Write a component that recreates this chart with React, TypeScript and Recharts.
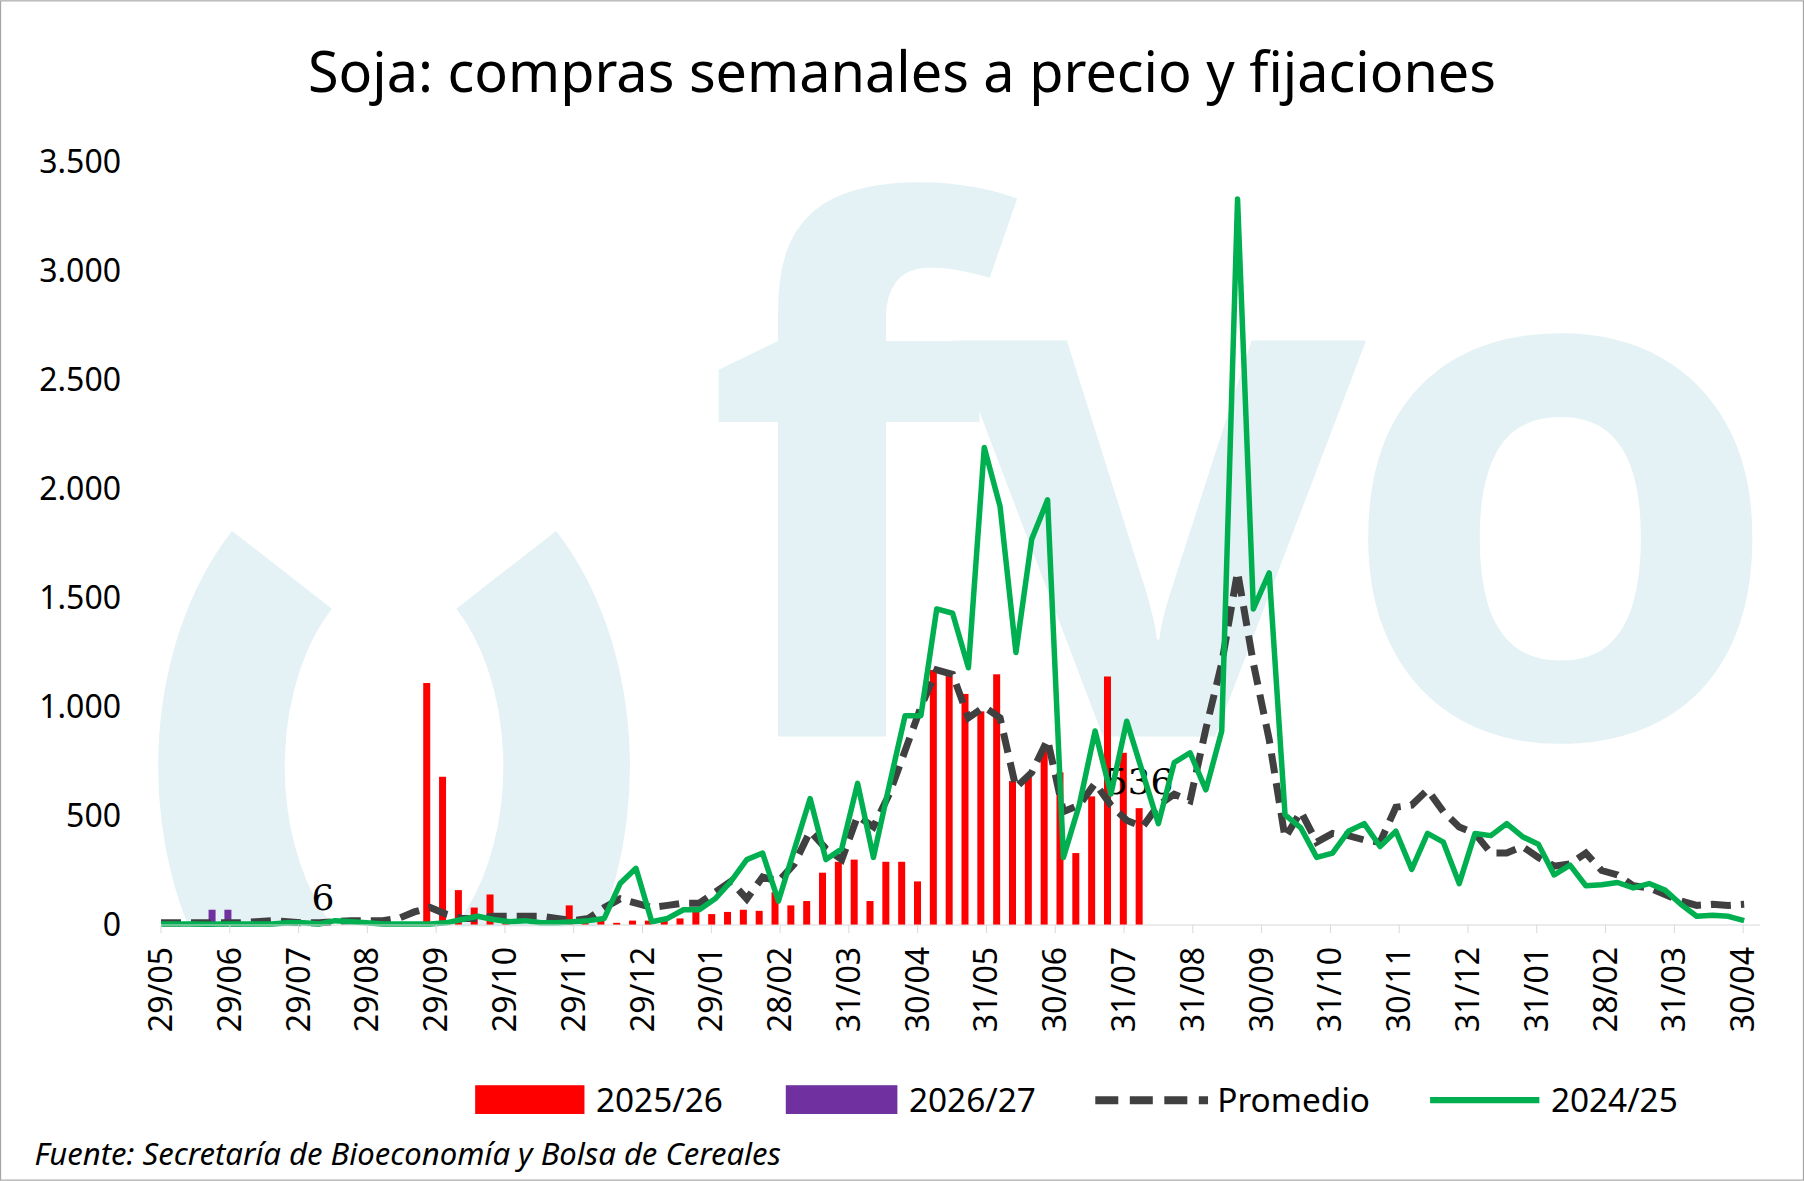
import React from 'react';
import { ComposedChart, Bar, Line, XAxis, YAxis } from 'recharts';

const weeks = Array.from({ length: 101 }, (_, i) => i);
const monthLabels = ['29/05','29/06','29/07','29/08','29/09','29/10','29/11','29/12','29/01','28/02','31/03','30/04','31/05','30/06','31/07','31/08','30/09','31/10','30/11','31/12','31/01','28/02','31/03','30/04'];
const monthTickWeeks = monthLabels.map((_, i) => i * 4.345);

const s2425 = [5,5,5,3,5,5,5,5,10,10,5,20,15,10,5,5,5,5,10,25,40,25,15,20,10,10,15,20,30,190,260,15,30,70,70,120,200,300,330,110,345,580,300,350,650,310,640,960,960,1450,1430,1180,2190,1920,1250,1770,1950,310,550,890,600,935,700,465,745,790,620,890,3330,1450,1615,505,445,310,330,430,465,360,430,255,420,380,190,420,410,465,405,370,230,275,180,185,195,170,190,160,95,40,45,40,20];
const promedio = [10,10,10,10,10,10,15,20,15,10,10,15,20,20,20,30,60,80,50,30,30,40,40,40,40,30,20,30,80,120,100,80,90,100,100,150,200,120,220,200,280,430,350,300,500,450,600,800,1000,1170,1150,950,1000,950,630,700,850,520,550,650,550,480,450,550,600,570,900,1200,1620,1200,850,400,520,380,420,410,390,380,540,550,620,520,450,420,330,330,360,310,270,280,330,250,230,180,170,140,110,90,95,90,95];
const s2526: (number | null)[] = [0,0,0,0,0,0,0,0,0,0,0,0,0,0,0,0,0,1110,680,160,80,140,10,0,0,0,90,30,20,10,20,20,20,30,60,50,60,70,65,150,90,110,240,290,300,110,290,290,200,1170,1150,1060,980,1150,660,680,800,700,330,590,1140,790,536];
const s2627: (number | null)[] = [0,0,0,70,70,0,0,0,0,0,6];

const data = weeks.map((w) => ({
  w,
  s2425: s2425[w] ?? null,
  prom: promedio[w] ?? null,
  s2526: w < s2526.length ? s2526[w] : null,
  s2627: w < s2627.length ? s2627[w] : null,
}));

const fmt = (v: number) => v.toLocaleString('de-DE');

const XTick = (props: any) => {
  const { x, y, payload } = props;
  const idx = monthTickWeeks.findIndex((t) => Math.abs(t - payload.value) < 0.01);
  return (
    <text x={x} y={y} transform={`rotate(-90, ${x}, ${y})`} dx={-12} dy={11} textAnchor="end"
      fontSize={32} fill="#000" fontFamily="'Noto Sans', sans-serif">
      {monthLabels[idx]}
    </text>
  );
};

const barShape = (len: number, color: string, label: string) => (props: any) => {
  const { x, y, width, height, index } = props;
  const h = Math.max(0, height || 0);
  return (
    <g>
      {h > 0 && <rect x={x} y={y} width={width} height={h} fill={color} />}
      {index === len - 1 && (
        <text x={x + width / 2} y={y - 14} textAnchor="middle" fontSize={36} fill="#000"
          fontFamily="'DejaVu Serif', serif">{label}</text>
      )}
    </g>
  );
};

export default function App() {
  const F = "'Noto Sans', sans-serif";
  return (
    <div style={{ position: 'absolute', left: 0, top: 0, width: 1804, height: 1181, background: '#fff' }}>
      <svg width={1804} height={1181} viewBox="0 0 1568 1026" style={{ position: 'absolute', left: 0, top: 0 }}>
        <defs>
          <clipPath id="cl"><rect x="0" y="0" width="1568" height="805" /></clipPath>
        </defs>
        <g clipPath="url(#cl)" fill="#e4f2f5">
          <path d="M 245 495 A 150 225 0 1 0 440 495" fill="none" stroke="#e4f2f5" strokeWidth={110} />
          <text x={612} y={640} fontSize={630} fontWeight={700} fontFamily="'Noto Sans', sans-serif" letterSpacing={-28}>fvo</text>
        </g>
        <rect x="0.5" y="0.5" width="1567" height="1025" fill="none" stroke="#a6a6a6" />
      </svg>
      <div style={{ position: 'absolute', left: 0, top: 0 }}>
        <ComposedChart width={1804} height={1181} data={data} margin={{ top: 162, right: 44, bottom: 133, left: 0 }}>
          <XAxis dataKey="w" type="number" domain={[0, 101]} ticks={monthTickWeeks} interval={0}
            tick={<XTick />} height={123} stroke="#d9d9d9" tickLine={{ stroke: '#d9d9d9' }} tickSize={8} />
          <YAxis domain={[0, 3500]} ticks={[0,500,1000,1500,2000,2500,3000,3500]} width={161}
            tickFormatter={fmt} axisLine={false} tickLine={false} tickMargin={34}
            tick={{ fontSize: 32, fill: '#000', fontFamily: F }} />
          <Bar dataKey="s2526" fill="#ff0000" barSize={7} isAnimationActive={false}
            shape={barShape(s2526.length, '#ff0000', '536')} />
          <Bar dataKey="s2627" fill="#7030a0" barSize={7} isAnimationActive={false}
            shape={barShape(s2627.length, '#7030a0', '6')} />
          <Line dataKey="prom" stroke="#404040" strokeWidth={7} strokeDasharray="20 10" dot={false} isAnimationActive={false} />
          <Line dataKey="s2425" stroke="#00b050" strokeWidth={5.5} dot={false} strokeLinejoin="round" isAnimationActive={false} />
        </ComposedChart>
      </div>
      <svg width={1804} height={1181} viewBox="0 0 1568 1026" style={{ position: 'absolute', left: 0, top: 0, pointerEvents: 'none' }}>
        <text x={784} y={80} textAnchor="middle" fontSize={48.5} fontFamily={F}>Soja: compras semanales a precio y fijaciones</text>
        <rect x={413} y={943} width={95} height={25} fill="#ff0000" />
        <text x={518} y={966} fontSize={29} fontFamily={F}>2025/26</text>
        <rect x={683} y={943} width={97} height={25} fill="#7030a0" />
        <text x={790} y={966} fontSize={29} fontFamily={F}>2026/27</text>
        <line x1={952} y1={956} x2={1050} y2={956} stroke="#404040" strokeWidth={7} strokeDasharray="20 10" />
        <text x={1058} y={966} fontSize={29} fontFamily={F}>Promedio</text>
        <line x1={1243} y1={956} x2={1338} y2={956} stroke="#00b050" strokeWidth={5.5} />
        <text x={1348} y={966} fontSize={29} fontFamily={F}>2024/25</text>
        <text x={30} y={1012} fontSize={27} fontStyle="italic" fontFamily={F}>Fuente: Secretaría de Bioeconomía y Bolsa de Cereales</text>
      </svg>
    </div>
  );
}
